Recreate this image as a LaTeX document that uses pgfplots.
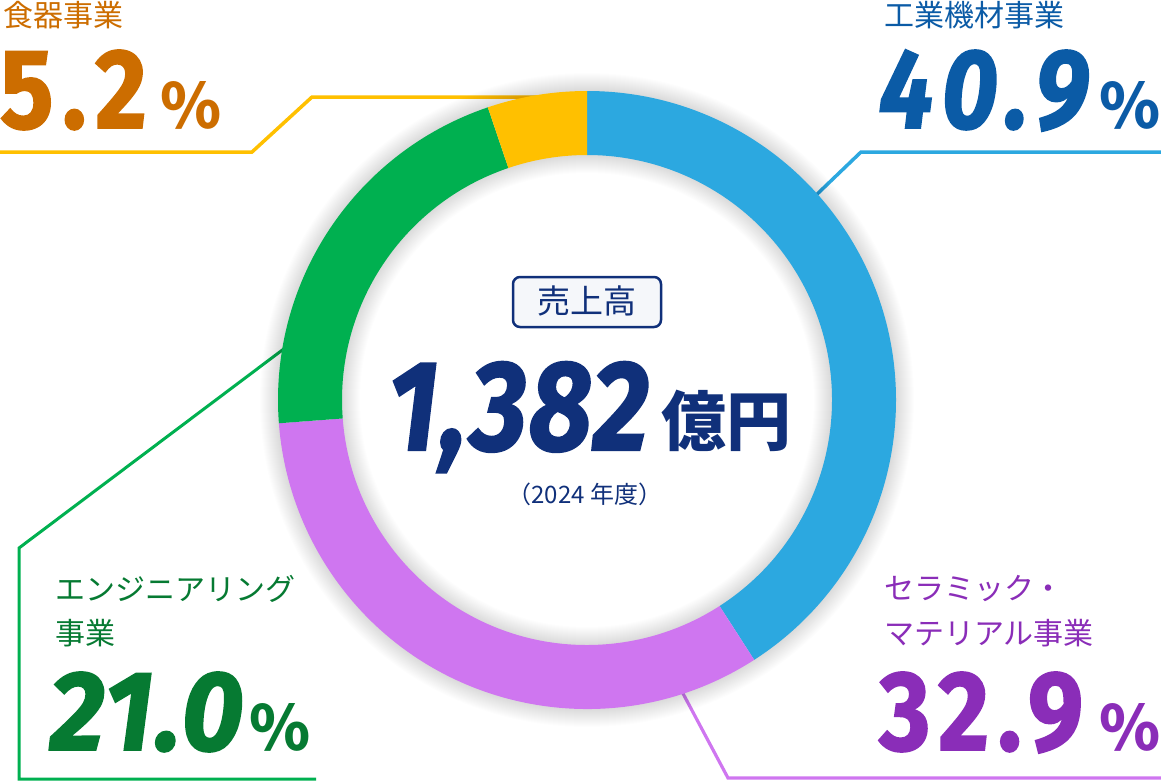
\documentclass[border=0pt]{standalone}
\usepackage{pgfplots}
\pgfplotsset{compat=1.18}
\usepackage{fontspec}
\newfontfamily\jp{Noto Sans CJK JP}
\newfontfamily\num{Fira Sans}[LetterSpace=9, BoldFeatures={FakeBold=1.6}, BoldItalicFeatures={FakeBold=1.6}]
\newfontfamily\numb{Fira Sans}[LetterSpace=2, BoldFeatures={FakeBold=1.6}, BoldItalicFeatures={FakeBold=1.6}]
\definecolor{cBlue}{HTML}{2CA8E0}
\definecolor{cPurple}{HTML}{CF76F0}
\definecolor{cGreen}{HTML}{00B050}
\definecolor{cYel}{HTML}{FFC000}
\definecolor{tBlue}{HTML}{0B5BA6}
\definecolor{tPurple}{HTML}{8A2DB8}
\definecolor{tGreen}{HTML}{067A32}
\definecolor{tOrange}{HTML}{CC6D00}
\definecolor{navy}{HTML}{10307A}
\definecolor{boxfill}{HTML}{F5F7FA}
\newcommand\seg[3]{\fill[#3] (axis cs:587,400) ++(#1:309pt) arc[start angle=#1,end angle=#2,radius=309pt] -- ++(#2:-64pt) arc[start angle=#2,end angle=#1,radius=245pt] -- cycle;}
\begin{document}
\begin{tikzpicture}
\def\vA{40.9}\def\vB{32.9}\def\vC{21.0}\def\vD{5.2}
\pgfmathsetmacro\aA{90-3.6*\vA}
\pgfmathsetmacro\aB{\aA-3.6*\vB}
\pgfmathsetmacro\aC{\aB-3.6*\vC}
\pgfmathsetmacro\aD{\aC-3.6*\vD}
\begin{axis}[x=1pt,y=1pt,xmin=0,xmax=1161,ymin=0,ymax=782,y dir=reverse,hide axis,clip=false]
% leader lines
\addplot[no marks, line width=3.5pt, cYel] coordinates {(0,152) (252,152) (312,97) (545,97)};
\addplot[no marks, line width=3.5pt, cBlue] coordinates {(812,199) (861,152) (1161,152)};
\addplot[no marks, line width=3pt, cGreen] coordinates {(285,348) (19,548) (19,779) (316,779)};
\addplot[no marks, line width=3.2pt, cPurple] coordinates {(679,686) (728,778) (1161,778)};
% shadow
\pgfplotsinvokeforeach{1,...,18}{
  \draw[black,opacity=0.008,line width=#1*2pt] (axis cs:587,400) circle[radius=309pt];
  \draw[black,opacity=0.009,line width=#1*2pt] (axis cs:587,400) circle[radius=245pt];
}
% donut
\seg{90}{\aA}{cBlue}
\seg{\aA}{\aB}{cPurple}
\seg{\aB}{\aC}{cGreen}
\seg{\aC}{\aD}{cYel}
% center
\draw[navy, line width=2.5pt, fill=boxfill, rounded corners=7pt] (axis cs:513,277) rectangle (axis cs:661,327);
\node[inner sep=0, text=navy, font={\jp\fontsize{33}{38}\selectfont}] at (axis cs:587,301) {売上高};
\node[anchor=base west, inner sep=0, text=navy, font={\numb\bfseries\itshape\fontsize{128}{140}\selectfont}] at (axis cs:388,450) {\scalebox{0.86}[1]{1,382}};
\node[anchor=west, inner sep=0, text=navy, font={\jp\bfseries\fontsize{65}{72}\selectfont}] at (axis cs:661,421) {億円};
\node[inner sep=0, text=navy, font={\jp\fontsize{24}{28}\selectfont}] at (axis cs:585,494) {（2024 年度）};
% labels
\node[anchor=west, inner sep=0, text=tOrange, font={\jp\fontsize{30}{34}\selectfont}] at (axis cs:3,15) {食器事業};
\node[anchor=base west, inner sep=0, text=tOrange, font={\num\bfseries\fontsize{113}{120}\selectfont}] at (axis cs:0,128) {\scalebox{0.88}[1]{5.2}};
\node[anchor=base west, inner sep=0, text=tOrange, font={\jp\bfseries\fontsize{62}{70}\selectfont}] at (axis cs:160,128) {\%};

\node[anchor=west, inner sep=0, text=tBlue, font={\jp\fontsize{30}{34}\selectfont}] at (axis cs:884,15) {工業機材事業};
\node[anchor=base west, inner sep=0, text=tBlue, font={\num\bfseries\itshape\fontsize{113}{120}\selectfont}] at (axis cs:879,128) {\scalebox{0.86}[1]{40.9}};
\node[anchor=base east, inner sep=0, text=tBlue, font={\jp\bfseries\fontsize{62}{70}\selectfont}] at (axis cs:1161,128) {\%};

\node[anchor=west, inner sep=0, text=tGreen, font={\jp\fontsize{30}{34}\selectfont}] at (axis cs:55,589) {エンジニアリング};
\node[anchor=west, inner sep=0, text=tGreen, font={\jp\fontsize{30}{34}\selectfont}] at (axis cs:55,633) {事業};
\node[anchor=base west, inner sep=0, text=tGreen, font={\numb\bfseries\itshape\fontsize{113}{120}\selectfont}] at (axis cs:50,750) {\scalebox{0.95}[1]{21.0}};
\node[anchor=base west, inner sep=0, text=tGreen, font={\jp\bfseries\fontsize{62}{70}\selectfont}] at (axis cs:249,750) {\%};

\node[anchor=west, inner sep=0, text=tPurple, font={\jp\fontsize{30}{34}\selectfont}] at (axis cs:884,589) {セラミック・};
\node[anchor=west, inner sep=0, text=tPurple, font={\jp\fontsize{30}{34}\selectfont}] at (axis cs:884,633) {マテリアル事業};
\node[anchor=base west, inner sep=0, text=tPurple, font={\num\bfseries\fontsize{113}{120}\selectfont}] at (axis cs:879,750) {\scalebox{0.87}[1]{32.9}};
\node[anchor=base east, inner sep=0, text=tPurple, font={\jp\bfseries\fontsize{62}{70}\selectfont}] at (axis cs:1161,750) {\%};
\end{axis}
\pgfresetboundingbox
\path[use as bounding box] (current axis.south west) rectangle (current axis.north east);
\end{tikzpicture}
\end{document}
